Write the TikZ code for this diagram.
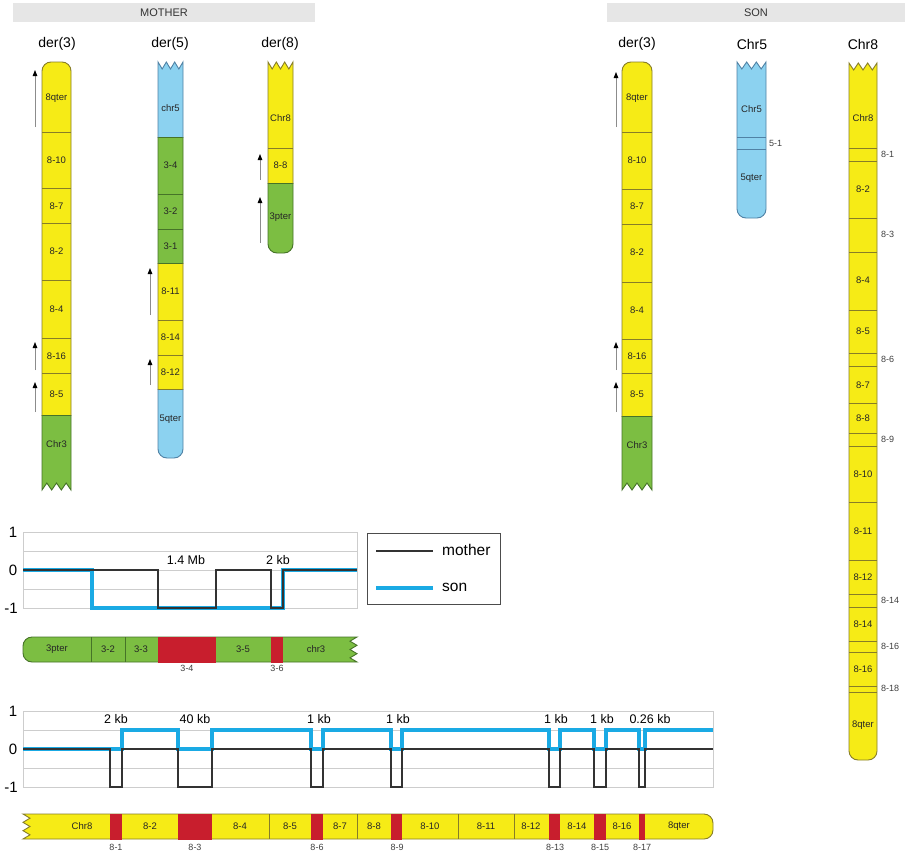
\documentclass[tikz,border=0pt]{standalone}
\usepackage{fontspec}
\setmainfont{Liberation Sans}
\usetikzlibrary{arrows.meta}
\definecolor{cyel}{RGB}{246,235,22}
\definecolor{cyeb}{RGB}{135,125,40}
\definecolor{cgrn}{RGB}{124,190,66}
\definecolor{cgrb}{RGB}{70,115,40}
\definecolor{cblu}{RGB}{140,210,240}
\definecolor{cblb}{RGB}{80,130,165}
\definecolor{cred}{RGB}{200,30,45}
\definecolor{cson}{RGB}{26,170,228}
\definecolor{cgrid}{RGB}{205,205,205}
\definecolor{chead}{RGB}{230,230,230}
% zig-zag bottom, rounded top: x0 x1 ytop ybottom
\newcommand\chrRZ[4]{({#1},{(#3+#4)/2}) [rounded corners=9] -- ({#1},{#3}) -- ({#2},{#3}) -- ({#2},{(#3+#4)/2}) [sharp corners] -- ({#2},{#4}) -- ({#2-(#2-#1)/6},{#4-7}) -- ({#2-(#2-#1)/3},{#4}) -- ({(#1+#2)/2},{#4-7}) -- ({#1+(#2-#1)/3},{#4}) -- ({#1+(#2-#1)/6},{#4-7}) -- ({#1},{#4}) -- cycle}
% zig-zag top, rounded bottom
\newcommand\chrZR[4]{({#1},{(#3+#4)/2}) [rounded corners=9] -- ({#1},{#4}) -- ({#2},{#4}) -- ({#2},{(#3+#4)/2}) [sharp corners] -- ({#2},{#3}) -- ({#2-(#2-#1)/6},{#3+7}) -- ({#2-(#2-#1)/3},{#3}) -- ({(#1+#2)/2},{#3+7}) -- ({#1+(#2-#1)/3},{#3}) -- ({#1+(#2-#1)/6},{#3+7}) -- ({#1},{#3}) -- cycle}
% horizontal bar, rounded left, zig right: x0 x1 y0 y1
\newcommand\barRZ[4]{({(#1+#2)/2},{#3}) [rounded corners=9] -- ({#1},{#3}) -- ({#1},{#4}) -- ({(#1+#2)/2},{#4}) [sharp corners] -- ({#2},{#4}) -- ({#2-7},{#4-(#4-#3)/6}) -- ({#2},{#4-(#4-#3)/3}) -- ({#2-7},{(#3+#4)/2}) -- ({#2},{#3+(#4-#3)/3}) -- ({#2-7},{#3+(#4-#3)/6}) -- ({#2},{#3}) -- cycle}
% horizontal bar, zig left, rounded right
\newcommand\barZR[4]{({(#1+#2)/2},{#3}) [rounded corners=9] -- ({#2},{#3}) -- ({#2},{#4}) -- ({(#1+#2)/2},{#4}) [sharp corners] -- ({#1},{#4}) -- ({#1+7},{#4-(#4-#3)/6}) -- ({#1},{#4-(#4-#3)/3}) -- ({#1+7},{(#3+#4)/2}) -- ({#1},{#3+(#4-#3)/3}) -- ({#1+7},{#3+(#4-#3)/6}) -- ({#1},{#3}) -- cycle}
\newcommand\segout[4]{\begin{scope}\clip #1 rectangle #2;\draw[line width=0.9,#3] #4;\end{scope}}
\begin{document}
\begin{tikzpicture}[x=1pt,y=-1pt,
  bl/.style={font=\fontsize{9.5}{11}\selectfont, text=black!85, inner sep=1pt},
  sl/.style={font=\fontsize{9}{10}\selectfont, text=black!75, inner sep=1pt},
  hd/.style={font=\fontsize{14}{16}\selectfont, inner sep=1pt},
  hb/.style={font=\fontsize{11}{13}\selectfont, text=black!80, inner sep=1pt},
  sepy/.style={draw=cyeb, line width=0.7},
  sepg/.style={draw=cgrb, line width=0.7},
  sepb/.style={draw=cblb, line width=0.7},
  gridl/.style={draw=cgrid, line width=0.8},
  sonl/.style={draw=cson, line width=3.6},
  motl/.style={draw=black!80, line width=1.1},
  upar/.style={draw=black!45, line width=0.9, -{Triangle[length=6pt,width=4.5pt,color=black]}},
  axl/.style={font=\fontsize{15}{17}\selectfont, inner sep=1pt},
  kbl/.style={font=\fontsize{12.5}{14}\selectfont, inner sep=1pt},
  lgl/.style={font=\fontsize{15.5}{17}\selectfont, inner sep=1pt, anchor=west}]
\useasboundingbox (0,0) rectangle (913,854);
\fill[white] (0,0) rectangle (913,854);
% header bars
\fill[chead] (13,3) rectangle (315,22);
\node[hb] (mhead) at (164,13) {MOTHER};
\fill[chead] (607,3) rectangle (905,22);
\node[hb] (shead) at (756,13) {SON};
\node[hd] (tmd3) at (57,44) {der(3)};
\node[hd] (tmd5) at (170,44) {der(5)};
\node[hd] (tmd8) at (280,44) {der(8)};
\node[hd] (tsd3) at (637,44) {der(3)};
\node[hd] (tsc5) at (752,44) {Chr5};
\node[hd] (tsc8) at (863,44) {Chr8};
% ---------- mother der(3)
\begin{scope}\clip \chrRZ{42}{71}{62}{490};
\fill[cyel] (40,60) rectangle (73,415);
\fill[cgrn] (40,415) rectangle (73,492);
\foreach \y in {132,188,223,280,338,373} \draw[sepy] (42,\y) -- (71,\y);
\draw[sepg] (42,415) -- (71,415);
\end{scope}
\segout{(30,50)}{(80,415)}{cyeb}{\chrRZ{42}{71}{62}{490}}
\segout{(30,415)}{(80,500)}{cgrb}{\chrRZ{42}{71}{62}{490}}
\foreach \y/\t [count=\i] in {98/8qter,160/8-10,206/8-7,251/8-2,309/8-4,356/8-16,394/8-5,444/Chr3}
  \node[bl] (md3b\i) at (56.5,\y) {\t};
% ---------- mother der(5)
\begin{scope}\clip \chrZR{158}{183}{62}{458};
\fill[cblu] (156,60) rectangle (185,137);
\fill[cgrn] (156,137) rectangle (185,263);
\fill[cyel] (156,263) rectangle (185,389);
\fill[cblu] (156,389) rectangle (185,460);
\foreach \y in {137,194,229,263} \draw[sepg] (158,\y) -- (183,\y);
\foreach \y in {320,355,389} \draw[sepy] (158,\y) -- (183,\y);
\end{scope}
\segout{(140,50)}{(195,137)}{cblb}{\chrZR{158}{183}{62}{458}}
\segout{(140,137)}{(195,263)}{cgrb}{\chrZR{158}{183}{62}{458}}
\segout{(140,263)}{(195,389)}{cyeb}{\chrZR{158}{183}{62}{458}}
\segout{(140,389)}{(195,470)}{cblb}{\chrZR{158}{183}{62}{458}}
\foreach \y/\t [count=\i] in {108/chr5,165/3-4,211/3-2,246/3-1,291/8-11,337/8-14,372/8-12,419/5qter}
  \node[bl] (md5b\i) at (170.5,\y) {\t};
% ---------- mother der(8)
\begin{scope}\clip \chrZR{268}{293}{62}{253};
\fill[cyel] (266,60) rectangle (295,183);
\fill[cgrn] (266,183) rectangle (295,255);
\draw[sepy] (268,148) -- (293,148);
\draw[sepg] (268,183) -- (293,183);
\end{scope}
\segout{(250,50)}{(305,183)}{cyeb}{\chrZR{268}{293}{62}{253}}
\segout{(250,183)}{(305,265)}{cgrb}{\chrZR{268}{293}{62}{253}}
\foreach \y/\t [count=\i] in {118/Chr8,165/8-8,217/3pter}
  \node[bl] (md8b\i) at (280.5,\y) {\t};
% ---------- son der(3)
\begin{scope}\clip \chrRZ{622}{652}{62}{490};
\fill[cyel] (620,60) rectangle (654,416);
\fill[cgrn] (620,416) rectangle (654,492);
\foreach \y in {132,189,224,282,339,373} \draw[sepy] (622,\y) -- (652,\y);
\draw[sepg] (622,416) -- (652,416);
\end{scope}
\segout{(610,50)}{(660,416)}{cyeb}{\chrRZ{622}{652}{62}{490}}
\segout{(610,416)}{(660,500)}{cgrb}{\chrRZ{622}{652}{62}{490}}
\foreach \y/\t [count=\i] in {98/8qter,160/8-10,206/8-7,252/8-2,310/8-4,356/8-16,394/8-5,445/Chr3}
  \node[bl] (sd3b\i) at (637,\y) {\t};
% ---------- son Chr5
\begin{scope}\clip \chrZR{737}{766}{62}{218};
\fill[cblu] (735,60) rectangle (768,220);
\foreach \y in {137,149} \draw[sepb] (737,\y) -- (766,\y);
\end{scope}
\draw[line width=0.9,cblb] \chrZR{737}{766}{62}{218};
\node[bl] (sc5b1) at (751.5,109) {Chr5};
\node[bl] (sc5b2) at (751.5,178) {5qter};
\node[sl,anchor=west] (sc5s1) at (768,143) {5-1};
% ---------- son Chr8
\begin{scope}\clip \chrZR{849}{877}{63}{760};
\fill[cyel] (847,60) rectangle (879,762);
\foreach \y in {148,161,218,252,310,353,366,403,433,446,502,560,594,607,641,652,686,692} \draw[sepy] (849,\y) -- (877,\y);
\end{scope}
\draw[line width=0.9,cyeb] \chrZR{849}{877}{63}{760};
\foreach \y/\t [count=\i] in {118/Chr8,189/8-2,280/8-4,331/8-5,385/8-7,418/8-8,474/8-10,531/8-11,577/8-12,624/8-14,669/8-16,725/8qter}
  \node[bl] (sc8b\i) at (863,\y) {\t};
\foreach \y/\t [count=\i] in {154/8-1,234/8-3,359/8-6,439/8-9,600/8-14,646/8-16,688/8-18}
  \node[sl,anchor=west] (sc8s\i) at (880,\y) {\t};
% ---------- arrows
\foreach \n/\x/\a/\b in {a1/35/127/70, a2/35/370/342, a3/35/412/382,
  a4/150/315/268, a5/150/385/359, a6/260/180/154, a7/260/243/197,
  a8/616/127/72, a9/616/370/342, a10/616/412/382}{
  \coordinate (\n s) at (\x,\a);
  \coordinate (\n e) at (\x,\b);
  \draw[upar] (\n s) -- (\n e);
}
% ---------- graph 1
\draw[gridl] (23,532) rectangle (357,608);
\foreach \y in {551,570,589} \draw[gridl] (23,\y) -- (357,\y);
\node[axl] (g1y1) at (13,532) {1};
\node[axl] (g1y0) at (13,570) {0};
\node[axl] (g1ym) at (11,608) {-1};
\draw[sonl] (23,570) -- (92,570) -- (92,608) -- (283,608) -- (283,570) -- (357,570);
\draw[motl] (23,570) -- (158,570) -- (158,608) -- (216,608) -- (216,570) -- (271,570) -- (271,608) -- (283,608) -- (283,570) -- (357,570);
\node[kbl] (g1k1) at (186,560) {1.4 Mb};
\node[kbl] (g1k2) at (278,560) {2 kb};
% legend
\draw[black!70, line width=1] (367,533) rectangle (500,604);
\coordinate (lgm1) at (376,551); \coordinate (lgm2) at (433,551);
\coordinate (lgs1) at (376,588); \coordinate (lgs2) at (433,588);
\draw[motl] (lgm1) -- (lgm2);
\draw[sonl] (lgs1) -- (lgs2);
\node[lgl] (lgmt) at (441,550) {mother};
\node[lgl] (lgst) at (441,587) {son};
% ---------- bar 1 (chr3)
\begin{scope}\clip \barRZ{23}{357}{637}{662};
\fill[cgrn] (20,635) rectangle (360,664);
\foreach \x in {91,125} \draw[sepg] (\x,637) -- (\x,662);
\end{scope}
\draw[line width=0.9,cgrb] \barRZ{23}{357}{637}{662};
\fill[cred] (158,636.5) rectangle (216,662.5);
\fill[cred] (271,636.5) rectangle (283,662.5);
\foreach \x/\t [count=\i] in {57/3pter,108/3-2,141/3-3,243/3-5,316/chr3}
  \node[bl] (b1l\i) at (\x,649) {\t};
\node[sl] (b1r1) at (187,668) {3-4};
\node[sl] (b1r2) at (277,668) {3-6};
% ---------- graph 2
\draw[gridl] (23,711) rectangle (713,787);
\foreach \y in {730,749,768} \draw[gridl] (23,\y) -- (713,\y);
\node[axl] (g2y1) at (13,711) {1};
\node[axl] (g2y0) at (13,749) {0};
\node[axl] (g2ym) at (11,787) {-1};
\draw[sonl] (23,749) -- (122,749) -- (122,730) -- (178,730) -- (178,749) -- (212,749) -- (212,730) -- (311,730) -- (311,749) -- (323,749) -- (323,730) -- (391,730) -- (391,749) -- (402,749) -- (402,730) -- (549,730) -- (549,749) -- (560,749) -- (560,730) -- (594,730) -- (594,749) -- (606,749) -- (606,730) -- (639,730) -- (639,749) -- (645,749) -- (645,730) -- (713,730);
\draw[motl] (23,749) -- (110,749) -- (110,787) -- (122,787) -- (122,749) -- (178,749) -- (178,787) -- (212,787) -- (212,749) -- (311,749) -- (311,787) -- (323,787) -- (323,749) -- (391,749) -- (391,787) -- (402,787) -- (402,749) -- (549,749) -- (549,787) -- (560,787) -- (560,749) -- (594,749) -- (594,787) -- (606,787) -- (606,749) -- (639,749) -- (639,787) -- (645,787) -- (645,749) -- (713,749);
\foreach \x/\t [count=\i] in {116/2 kb,195/40 kb,319/1 kb,398/1 kb,556/1 kb,602/1 kb,650/0.26 kb}
  \node[kbl] (g2k\i) at (\x,719) {\t};
% ---------- bar 2 (chr8)
\begin{scope}\clip \barZR{23}{713}{814}{839};
\fill[cyel] (20,812) rectangle (716,841);
\foreach \x in {269,357,458,514} \draw[sepy] (\x,814) -- (\x,839);
\end{scope}
\draw[line width=0.9,cyeb] \barZR{23}{713}{814}{839};
\foreach \a/\b in {110/122,178/212,311/323,391/402,549/560,594/606,639/645}
  \fill[cred] (\a,813.5) rectangle (\b,839.5);
\foreach \x/\t [count=\i] in {82/Chr8,150/8-2,240/8-4,290/8-5,340/8-7,374/8-8,430/8-10,486/8-11,531/8-12,577/8-14,622/8-16,679/8qter}
  \node[bl] (b2l\i) at (\x,826.5) {\t};
\foreach \x/\t [count=\i] in {116/8-1,195/8-3,317/8-6,397/8-9,555/8-13,600/8-15,642/8-17}
  \node[sl] (b2r\i) at (\x,847) {\t};
\end{tikzpicture}
\end{document}
